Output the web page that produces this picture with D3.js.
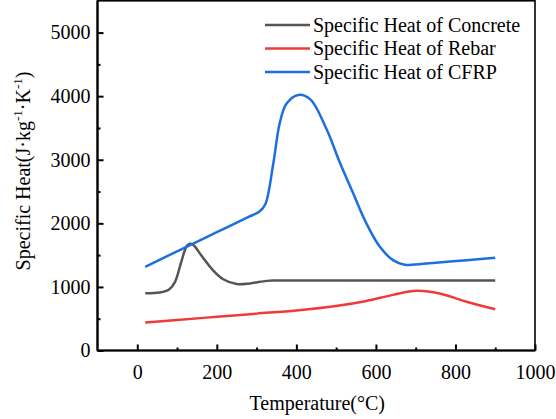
<!DOCTYPE html>
<html>
<head>
<meta charset="utf-8">
<script src="https://cdn.jsdelivr.net/npm/d3@7"></script>
<style>
  body { margin: 0; background: #fff; }
  text { font-family: "Liberation Serif", "Times New Roman", serif; fill: #000; }
</style>
</head>
<body>
<svg id="chart"></svg>
<script>
/* data */
var tempConcrete = [20, 56, 80, 95, 110, 124, 132, 140, 164, 190, 216, 250, 283, 325, 345, 400, 500, 600, 700, 800, 900];
var heatConcrete = [900, 912, 960, 1080, 1380, 1640, 1680, 1665, 1470, 1265, 1120, 1045, 1055, 1095, 1100, 1100, 1100, 1100, 1100, 1100, 1100];

var tempRebar = [20, 100, 200, 300, 400, 500, 576, 643, 702, 760, 828, 900];
var heatRebar = [440, 480, 530, 580, 630, 700, 780, 875, 939, 898, 766, 650];

var tempCFRP = [20, 100, 200, 280, 308, 322, 342, 358, 375, 405, 435, 476, 509, 543, 576, 610, 643, 672, 744, 828, 900];
var heatCFRP = [1316, 1560, 1860, 2100, 2190, 2300, 2940, 3570, 3880, 4020, 3950, 3480, 2960, 2470, 2000, 1630, 1421, 1350, 1378, 1421, 1457];

var seriesNames = ["Specific Heat of Concrete", "Specific Heat of Rebar", "Specific Heat of CFRP"];
var seriesColors = ["#555555", "#f03a3a", "#1c6fde"];

var xMajor = [0, 200, 400, 600, 800, 1000];
var xMinor = [100, 300, 500, 700, 900];
var yMajor = [0, 1000, 2000, 3000, 4000, 5000];
var yMinor = [500, 1500, 2500, 3500, 4500];

/* settings */
var width = 556,
    height = 419,
    plotLeft = 97.5, plotRight = 535, plotTop = 0.8, plotBottom = 350.5,
    fontSize = "20px";

var svg = d3.select("#chart")
    .attr("width", width)
    .attr("height", height);

var xScale = d3.scaleLinear().domain([-100, 1000]).range([plotLeft, plotRight]);
var yScale = d3.scaleLinear().domain([0, 5500]).range([plotBottom, plotTop]);

function zipData(xs, ys) {
    return xs.map(function(t, i) { return { t: t, c: ys[i] }; });
}
var allSeries = [
    zipData(tempConcrete, heatConcrete),
    zipData(tempRebar, heatRebar),
    zipData(tempCFRP, heatCFRP)
];

var line = d3.line()
    .curve(d3.curveCatmullRom.alpha(0.5))
    .x(function(d) { return xScale(d.t); })
    .y(function(d) { return yScale(d.c); });

/* lines */
svg.append("g").attr("id", "lines")
  .selectAll("path")
  .data(allSeries)
  .enter().append("path")
    .attr("fill", "none")
    .attr("stroke", function(d, i) { return seriesColors[i]; })
    .attr("stroke-width", 2.5)
    .attr("stroke-linejoin", "round")
    .attr("d", line);

/* frame */
svg.append("rect")
    .attr("x", plotLeft).attr("y", plotTop)
    .attr("width", plotRight - plotLeft).attr("height", plotBottom - plotTop)
    .attr("fill", "none").attr("stroke", "#000").attr("stroke-width", 1.6);
svg.append("line") // thicker left + bottom axis lines
    .attr("x1", plotLeft).attr("x2", plotLeft).attr("y1", plotTop).attr("y2", plotBottom)
    .attr("stroke", "#000").attr("stroke-width", 2.2);
svg.append("line")
    .attr("x1", plotLeft).attr("x2", plotRight).attr("y1", plotBottom).attr("y2", plotBottom)
    .attr("stroke", "#000").attr("stroke-width", 2.2);

/* x-axis */
var xAxis = d3.axisBottom(xScale).tickValues(xMajor).tickSize(-6).tickPadding(14)
    .tickFormat(d3.format("d"));
var xAxisG = svg.append("g")
    .attr("class", "x-axis")
    .attr("transform", "translate(0," + plotBottom + ")")
    .call(xAxis);
xAxisG.select(".domain").remove();
xAxisG.selectAll(".tick line").attr("stroke-width", 2);
xAxisG.attr("font-family", null).attr("font-size", null);
xAxisG.selectAll(".tick text").style("font-size", fontSize);

svg.append("g")
    .attr("transform", "translate(0," + plotBottom + ")")
    .call(d3.axisBottom(xScale).tickValues(xMinor).tickSize(-3).tickFormat(""))
  .call(function(g) { g.select(".domain").remove(); })
  .selectAll(".tick line").attr("stroke-width", 2);

svg.append("text")
    .attr("x", (plotLeft + plotRight) / 2 + 1)
    .attr("y", 410)
    .attr("text-anchor", "middle")
    .style("font-size", fontSize)
    .text("Temperature(\u00B0C)");

/* y-axis */
var yAxis = d3.axisLeft(yScale).tickValues(yMajor).tickSize(-6).tickPadding(7)
    .tickFormat(d3.format("d"));
var yAxisG = svg.append("g")
    .attr("class", "y-axis")
    .attr("transform", "translate(" + plotLeft + ",0)")
    .call(yAxis);
yAxisG.select(".domain").remove();
yAxisG.selectAll(".tick line").attr("stroke-width", 2);
yAxisG.attr("font-family", null).attr("font-size", null);
yAxisG.selectAll(".tick text").style("font-size", fontSize);

svg.append("g")
    .attr("transform", "translate(" + plotLeft + ",0)")
    .call(d3.axisLeft(yScale).tickValues(yMinor).tickSize(-3).tickFormat(""))
  .call(function(g) { g.select(".domain").remove(); })
  .selectAll(".tick line").attr("stroke-width", 2);

var yTitle = svg.append("text")
    .attr("transform", "translate(30," + 171 + ") rotate(-90)")
    .attr("text-anchor", "middle")
    .style("font-size", fontSize);
yTitle.append("tspan").text("Specific Heat(J\u00B7kg");
yTitle.append("tspan").attr("dy", -8).style("font-size", "13px").text("-1");
yTitle.append("tspan").attr("dy", 8).text("\u00B7K");
yTitle.append("tspan").attr("dy", -8).style("font-size", "13px").text("-1");
yTitle.append("tspan").attr("dy", 8).text(")");

/* legend */
var legend = svg.append("g").attr("class", "legend")
  .selectAll("g")
  .data(seriesNames)
  .enter().append("g")
    .attr("transform", function(d, i) { return "translate(265," + (25 + i * 23.5) + ")"; });
legend.append("line")
    .attr("x1", 0).attr("x2", 45)
    .attr("stroke", function(d, i) { return seriesColors[i]; })
    .attr("stroke-width", 2.5);
legend.append("text")
    .attr("x", 48)
    .attr("y", 6.5)
    .style("font-size", fontSize)
    .text(function(d) { return d; });
</script>
</body>
</html>
